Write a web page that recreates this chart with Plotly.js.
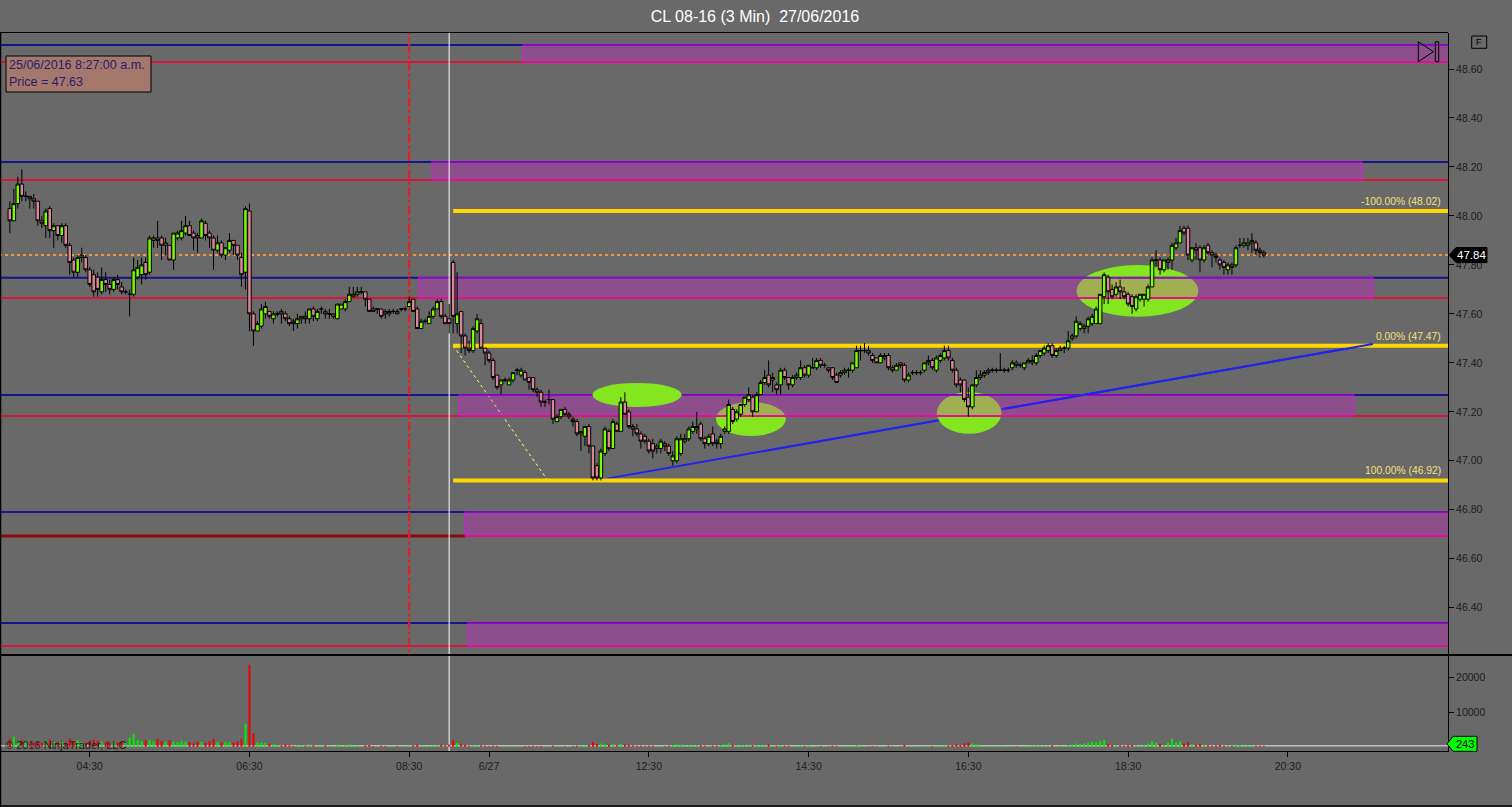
<!DOCTYPE html>
<html><head><meta charset="utf-8">
<script src="https://cdn.plot.ly/plotly-3.0.1.min.js"></script>
<style>html,body{margin:0;padding:0;background:#696969;overflow:hidden}#chart{width:1512px;height:807px}</style>
</head><body><div id="chart"></div>
<script>
// ---------------- DATA ----------------
const firstBar = -20; // bar index of first candle (index 0 = 04:30)
const openP = [
48.03,47.98,48.05,48.13,48.08,48.08,48.07,48.06,47.98,47.96,
48.03,47.94,47.96,47.92,47.96,47.88,47.82,47.77,47.83,47.83,
47.78,47.76,47.75,47.69,47.74,47.72,47.70,47.74,47.71,47.69,
47.68,47.68,47.75,47.76,47.81,47.77,47.90,47.91,47.91,47.88,
47.88,47.82,47.91,47.91,47.93,47.96,47.93,47.92,47.91,47.97,
47.93,47.91,47.86,47.89,47.84,47.86,47.90,47.88,47.83,47.77,
48.02,47.60,47.53,47.55,47.60,47.61,47.58,47.60,47.61,47.60,
47.58,47.57,47.56,47.58,47.59,47.58,47.62,47.58,47.62,47.61,
47.60,47.59,47.58,47.62,47.62,47.65,47.67,47.68,47.69,47.69,
47.66,47.62,47.62,47.62,47.61,47.60,47.61,47.61,47.62,47.62,
47.63,47.66,47.62,47.54,47.57,47.56,47.59,47.62,47.65,47.59,
47.58,47.81,47.56,47.61,47.51,47.46,47.45,47.53,47.56,47.46,
47.44,47.41,47.35,47.31,47.33,47.31,47.33,47.37,47.35,47.36,
47.34,47.34,47.29,47.28,47.24,47.25,47.25,47.16,47.18,47.21,
47.18,47.17,47.16,47.11,47.10,47.14,47.06,46.98,46.93,47.03,
47.12,47.05,47.15,47.12,47.24,47.20,47.14,47.13,47.11,47.10,
47.08,47.07,47.05,47.05,47.07,47.06,47.00,47.00,47.03,47.08,
47.09,47.12,47.13,47.15,47.09,47.07,47.11,47.08,47.07,47.12,
47.12,47.21,47.17,47.19,47.23,47.25,47.26,47.20,47.27,47.32,
47.35,47.33,47.31,47.31,47.37,47.34,47.31,47.34,47.34,47.38,
47.35,47.38,47.38,47.41,47.39,47.38,47.38,47.35,47.35,47.36,
47.37,47.37,47.38,47.45,47.45,47.45,47.43,47.42,47.40,47.42,
47.43,47.38,47.37,47.40,47.39,47.33,47.36,47.36,47.36,47.37,
47.40,47.41,47.37,47.41,47.42,47.45,47.41,47.37,47.33,47.33,
47.26,47.22,47.31,47.34,47.35,47.36,47.37,47.37,47.37,47.37,
47.37,47.38,47.40,47.39,47.38,47.40,47.40,47.40,47.43,47.44,
47.45,47.47,47.43,47.45,47.46,47.46,47.50,47.51,47.54,47.54,
47.55,47.56,47.56,47.56,47.67,47.75,47.70,47.68,47.71,47.69,
47.68,47.67,47.62,47.66,47.66,47.66,47.71,47.82,47.82,47.78,
47.81,47.82,47.87,47.89,47.95,47.95,47.82,47.87,47.87,47.82,
47.88,47.85,47.84,47.82,47.81,47.78,47.80,47.80,47.88,47.88,
47.88,47.89,47.89,47.86,47.85];
const highP = [
48.06,48.11,48.16,48.19,48.10,48.08,48.09,48.06,48.00,48.03,
48.04,47.97,47.96,47.97,47.97,47.89,47.83,47.84,47.87,47.84,
47.79,47.78,47.77,47.79,47.77,47.74,47.75,47.76,47.73,47.70,
47.70,47.83,47.82,47.83,47.83,47.92,47.92,47.98,47.92,47.91,
47.88,47.93,47.94,47.98,48.00,47.98,47.94,47.93,47.99,47.98,
47.94,47.92,47.92,47.90,47.87,47.93,47.90,47.88,47.85,48.04,
48.05,47.61,47.57,47.64,47.65,47.61,47.61,47.61,47.62,47.61,
47.59,47.58,47.60,47.59,47.61,47.62,47.63,47.62,47.63,47.62,
47.62,47.60,47.64,47.64,47.66,47.71,47.71,47.71,47.71,47.69,
47.66,47.63,47.62,47.62,47.62,47.62,47.62,47.62,47.62,47.63,
47.67,47.66,47.63,47.58,47.58,47.61,47.63,47.66,47.66,47.60,
47.64,47.82,47.77,47.61,47.52,47.49,47.55,47.60,47.58,47.46,
47.45,47.42,47.35,47.33,47.34,47.34,47.36,47.38,47.38,47.37,
47.34,47.34,47.30,47.29,47.25,47.29,47.25,47.19,47.21,47.22,
47.20,47.18,47.17,47.12,47.14,47.15,47.06,46.99,47.05,47.14,
47.13,47.17,47.16,47.26,47.28,47.21,47.15,47.15,47.12,47.11,
47.09,47.09,47.07,47.09,47.08,47.07,47.04,47.10,47.11,47.11,
47.14,47.16,47.20,47.16,47.10,47.11,47.14,47.09,47.11,47.14,
47.25,47.22,47.21,47.23,47.26,47.30,47.27,47.28,47.33,47.37,
47.41,47.36,47.32,47.38,47.38,47.34,47.35,47.36,47.41,47.39,
47.39,47.42,47.42,47.42,47.40,47.38,47.38,47.36,47.37,47.38,
47.38,47.40,47.47,47.47,47.48,47.47,47.44,47.42,47.44,47.44,
47.44,47.39,47.40,47.40,47.40,47.36,47.37,47.37,47.37,47.40,
47.43,47.42,47.43,47.44,47.47,47.47,47.42,47.38,47.34,47.33,
47.30,47.31,47.37,47.37,47.37,47.38,47.38,47.38,47.44,47.38,
47.38,47.41,47.41,47.40,47.40,47.42,47.43,47.44,47.45,47.47,
47.48,47.48,47.46,47.47,47.47,47.53,47.52,47.59,47.57,47.56,
47.59,47.60,47.63,47.68,47.77,47.76,47.72,47.73,47.74,47.71,
47.69,47.68,47.68,47.68,47.68,47.72,47.83,47.86,47.83,47.82,
47.83,47.89,47.91,47.96,47.96,47.96,47.87,47.89,47.88,47.88,
47.89,47.86,47.85,47.83,47.82,47.81,47.81,47.88,47.91,47.91,
47.91,47.93,47.90,47.87,47.86];
const lowP = [
47.93,47.98,48.03,48.06,48.06,48.03,48.03,47.96,47.95,47.91,
47.91,47.87,47.90,47.89,47.87,47.76,47.75,47.75,47.81,47.77,
47.71,47.67,47.67,47.68,47.69,47.68,47.69,47.70,47.68,47.68,
47.59,47.67,47.74,47.72,47.74,47.76,47.87,47.87,47.82,47.84,
47.82,47.78,47.90,47.90,47.92,47.92,47.86,47.85,47.91,47.90,
47.87,47.78,47.85,47.83,47.82,47.85,47.84,47.82,47.71,47.70,
47.53,47.47,47.53,47.54,47.58,47.58,47.56,47.59,47.56,47.57,
47.55,47.53,47.54,47.56,47.56,47.56,47.57,47.57,47.60,47.58,
47.58,47.58,47.58,47.62,47.61,47.65,47.67,47.67,47.68,47.63,
47.61,47.61,47.60,47.58,47.58,47.59,47.60,47.60,47.61,47.61,
47.63,47.61,47.54,47.54,47.56,47.56,47.58,47.62,47.58,47.56,
47.52,47.52,47.52,47.44,47.43,47.44,47.44,47.52,47.46,47.39,
47.40,47.33,47.29,47.27,47.32,47.31,47.32,47.35,47.34,47.33,
47.29,47.28,47.26,47.22,47.22,47.23,47.15,47.16,47.17,47.18,
47.17,47.14,47.10,47.04,47.06,47.03,46.92,46.92,46.92,47.02,
47.04,47.05,47.12,47.12,47.19,47.13,47.10,47.10,47.05,47.07,
47.03,47.01,47.03,47.03,47.04,47.02,46.98,46.99,47.02,47.07,
47.08,47.11,47.11,47.08,47.05,47.06,47.06,47.05,47.05,47.11,
47.11,47.15,47.16,47.18,47.22,47.24,47.18,47.20,47.27,47.31,
47.30,47.28,47.27,47.27,47.33,47.29,47.30,47.33,47.33,47.34,
47.34,47.38,47.37,47.38,47.38,47.36,47.33,47.32,47.34,47.35,
47.34,47.36,47.38,47.41,47.44,47.43,47.40,47.40,47.40,47.41,
47.37,47.36,47.37,47.38,47.32,47.32,47.35,47.35,47.35,47.36,
47.39,47.37,47.36,47.40,47.41,47.41,47.36,47.30,47.28,47.24,
47.18,47.21,47.30,47.33,47.34,47.35,47.36,47.36,47.37,47.36,
47.36,47.37,47.38,47.38,47.37,47.40,47.39,47.39,47.42,47.43,
47.44,47.42,47.42,47.45,47.44,47.45,47.49,47.50,47.53,47.52,
47.52,47.55,47.56,47.56,47.64,47.64,47.66,47.67,47.66,47.66,
47.63,47.60,47.61,47.65,47.63,47.65,47.71,47.79,47.76,47.77,
47.78,47.78,47.86,47.89,47.92,47.82,47.81,47.82,47.77,47.81,
47.84,47.79,47.81,47.78,47.76,47.76,47.76,47.79,47.87,47.87,
47.86,47.85,47.84,47.83,47.83];
const closeP = [
47.98,48.05,48.13,48.08,48.08,48.07,48.06,47.98,47.97,48.02,
47.94,47.96,47.92,47.96,47.88,47.81,47.77,47.83,47.84,47.78,
47.72,47.69,47.70,47.74,47.72,47.70,47.74,47.72,47.69,47.69,
47.68,47.78,47.79,47.80,47.76,47.91,47.91,47.90,47.88,47.89,
47.82,47.93,47.93,47.94,47.96,47.92,47.91,47.91,47.98,47.92,
47.91,47.86,47.89,47.84,47.87,47.90,47.88,47.84,47.76,48.03,
47.60,47.53,47.56,47.62,47.63,47.59,47.60,47.60,47.60,47.58,
47.56,47.56,47.58,47.59,47.58,47.62,47.59,47.61,47.62,47.60,
47.60,47.60,47.64,47.64,47.65,47.68,47.68,47.69,47.69,47.66,
47.61,47.61,47.62,47.59,47.60,47.61,47.61,47.60,47.62,47.62,
47.65,47.61,47.54,47.57,47.57,47.59,47.62,47.65,47.59,47.56,
47.56,47.59,47.60,47.51,47.46,47.45,47.54,47.58,47.46,47.44,
47.41,47.34,47.30,47.33,47.33,47.33,47.36,47.37,47.37,47.33,
47.32,47.29,47.28,47.24,47.24,47.25,47.17,47.18,47.21,47.19,
47.19,47.16,47.11,47.12,47.14,47.06,46.93,46.93,47.04,47.13,
47.05,47.16,47.12,47.24,47.19,47.14,47.13,47.11,47.08,47.08,
47.04,47.04,47.06,47.08,47.06,47.03,47.02,47.09,47.09,47.09,
47.13,47.14,47.14,47.09,47.07,47.10,47.07,47.07,47.10,47.13,
47.23,47.16,47.20,47.23,47.26,47.27,47.20,47.27,47.32,47.34,
47.31,47.34,47.29,47.37,47.34,47.31,47.34,47.35,47.38,47.35,
47.39,47.38,47.41,47.39,47.39,47.37,47.34,47.32,47.36,47.37,
47.37,47.40,47.45,47.45,47.45,47.44,47.41,47.40,47.43,47.43,
47.38,47.37,47.39,47.39,47.33,47.35,47.36,47.36,47.36,47.40,
47.41,47.38,47.42,47.43,47.45,47.42,47.37,47.31,47.31,47.25,
47.22,47.31,47.34,47.35,47.36,47.37,47.37,47.37,47.37,47.37,
47.37,47.40,47.39,47.39,47.40,47.41,47.41,47.43,47.45,47.46,
47.47,47.43,47.45,47.46,47.46,47.49,47.51,47.57,47.56,47.55,
47.58,47.59,47.62,47.68,47.76,47.69,47.67,47.71,47.69,47.67,
47.64,47.63,47.67,47.68,47.68,47.71,47.82,47.82,47.78,47.82,
47.82,47.88,47.89,47.94,47.93,47.84,47.87,47.86,47.82,47.87,
47.85,47.84,47.83,47.80,47.79,47.80,47.79,47.87,47.88,47.89,
47.89,47.90,47.86,47.85,47.84];
const volume = [
2200,2900,1500,1800,1200,900,1100,1300,1200,1600,
2100,1300,1400,1500,1200,2300,1400,1800,1300,1200,
1600,2000,1700,1500,1300,1200,1400,1300,1500,1200,
2600,3700,1900,1600,1900,1900,1600,2300,1600,1400,
1900,1500,1300,1600,1500,1300,1000,1400,1400,1100,
1600,2200,1300,1100,1300,1300,1200,1500,2300,6600,
23600,3900,1200,1200,1100,900,700,500,400,600,
400,300,500,400,300,700,400,300,300,400,
300,200,600,300,400,700,300,300,200,400,
500,200,200,300,200,200,200,200,150,200,
300,400,600,300,200,300,300,400,500,400,
600,1900,1100,700,500,300,400,300,400,300,
200,300,250,200,150,200,200,150,150,200,
200,250,150,200,150,150,300,200,150,150,
150,200,300,400,300,500,1300,800,900,700,
600,700,400,800,600,500,400,300,300,250,
300,300,200,250,200,300,500,700,600,400,
500,400,500,400,300,300,350,300,500,700,
1000,600,400,500,500,400,400,500,500,400,
600,300,300,500,300,300,250,200,400,250,
400,200,250,200,150,150,300,250,150,150,
150,200,500,300,200,150,200,150,150,150,
300,150,150,150,500,200,150,150,150,200,
150,200,250,300,400,400,500,700,500,1000,
1200,900,700,300,200,150,150,150,300,200,
150,200,150,150,200,300,400,400,350,300,
300,400,200,300,200,500,600,900,800,900,
1100,1400,1300,1700,2000,700,500,400,400,300,
400,500,400,300,400,900,1500,1200,800,500,
1100,2300,1200,1500,900,1300,700,500,900,600,
400,300,400,500,300,400,300,600,500,300,
400,350,300,300,243];

const tickIdx = [0,40,80,100,140,180,220,260,300];
const tickLabels = ['04:30','06:30','08:30','6/27','12:30','14:30','16:30','18:30','20:30'];
const priceTicks = [46.4,46.6,46.8,47.0,47.2,47.4,47.6,47.8,48.0,48.2,48.4,48.6];
const priceTickLabels = ['46.40','46.60','46.80','47.00','47.20','47.40','47.60','47.80','48.00','48.20','48.40','48.60'];
const volTicks = [10000,20000];
const volTickLabels = ['10000','20000'];

// supply/demand zones
const zoneLow   = [48.629,48.147,47.665,47.183,46.693,46.244];
const zoneHigh  = [48.698,48.220,47.747,47.269,46.791,46.338];
const zoneStart = [108.5,85.7,82.4,92.5,94.0,94.7];
const zoneEnd   = [null,318.5,321.3,316.5,null,null]; // null = runs to right edge
// fibonacci retracement
const fibLevels = [48.02,47.47,46.92];
const fibLabels = ['-100.00% (48.02)','0.00% (47.47)','100.00% (46.92)'];
const fibStart = 91.0;
const fibDiagX = [91.0,114.7];
const fibDiagP = [47.47,46.92];
// trend line
const trendX = [127.0,321.3];
const trendP = [46.92,47.477];
// ellipses
const ellX0 = [125.9,156.8,212.1,247.1];
const ellX1 = [148.2,174.3,228.3,277.6];
const ellP0 = [47.220,47.101,47.110,47.588];
const ellP1 = [47.318,47.240,47.281,47.800];
// markers
const sessionBreak = 90;
const markerBar = 80;
const markerLines = ['25/06/2016 8:27:00 a.m.','Price = 47.63'];
const titleText = 'CL 08-16 (3 Min)\u00a0\u00a027/06/2016';

// ---------------- LAYOUT GEOMETRY ----------------
const W=1512, H=807, ML=1, MR=64, MT=33, MB=56;
const plotW = W-ML-MR, plotH = H-MT-MB;
const fx = px => (px-ML)/plotW;
const fy = py => (H-MB-py)/plotH;
const priceDom = [fy(654), 1];
const volDom = [0, fy(656)];
const priceRange = [46.211, 48.747];
const volRange = [-1239, 26138];
const xRange = [-22.21, 340.1];
const XL = xRange[0]-5, XR = xRange[1]+5;
const p2fy = p => priceDom[0] + (p-priceRange[0])/(priceRange[1]-priceRange[0])*(priceDom[1]-priceDom[0]);
const v2fy = v => volDom[0] + (v-volRange[0])/(volRange[1]-volRange[0])*(volDom[1]-volDom[0]);
const FONT = 'Segoe UI, Liberation Sans, Arial, sans-serif';

const barIdx = openP.map((_,k)=>firstBar+k);
const volColors = openP.map((o,k)=> closeP[k] >= o ? '#00ee00' : '#ee0000');
const lastPrice = closeP[closeP.length-1];
const lastVol = volume[volume.length-1];

// ---------------- SHAPES ----------------
const shapes = [];
const B = 'below';
const trendLine = (xa,xb)=>{
  const s=(trendP[1]-trendP[0])/(trendX[1]-trendX[0]);
  return {type:'line',xref:'x',yref:'y',x0:xa,y0:trendP[0]+s*(xa-trendX[0]),x1:xb,y1:trendP[0]+s*(xb-trendX[0]),line:{color:'#2222f0',width:2},layer:B};
};
shapes.push(trendLine(trendX[0],trendX[1]));
shapes.push({type:'line',xref:'x',yref:'y',x0:fibDiagX[0],y0:fibDiagP[0],x1:fibDiagX[1],y1:fibDiagP[1],line:{color:'#ffff70',width:1,dash:'dot'},layer:B});
for (let k=1;k<ellX0.length;k++){
  shapes.push({type:'circle',xref:'x',yref:'y',x0:ellX0[k],x1:ellX1[k],y0:ellP0[k],y1:ellP1[k],fillcolor:'#84e61e',line:{width:0},layer:B});
}
zoneHigh.forEach(v=>shapes.push({type:'line',xref:'x',yref:'y',x0:XL,x1:XR,y0:v,y1:v,line:{color:'#15158c',width:2},layer:B}));
zoneLow.forEach(v=>shapes.push({type:'line',xref:'x',yref:'y',x0:XL,x1:XR,y0:v,y1:v,line:{color:'#dc143c',width:2},layer:B}));
shapes.push({type:'line',xref:'x',yref:'y',x0:XL,x1:zoneStart[4],y0:zoneLow[4],y1:zoneLow[4],line:{color:'#8e0a0a',width:3},layer:B});
shapes.push({type:'line',xref:'x',yref:'y',x0:XL,x1:XR,y0:lastPrice,y1:lastPrice,line:{color:'#f09a3e',width:2,dash:'dot'},layer:B});
zoneLow.forEach((lo,k)=>shapes.push({type:'rect',xref:'x',yref:'y',x0:zoneStart[k],x1:(zoneEnd[k]===null?XR:zoneEnd[k]),y0:lo,y1:zoneHigh[k],fillcolor:'rgba(255,0,255,0.24)',line:{color:'rgba(255,0,255,0.55)',width:1.5},layer:B}));
shapes.push({type:'circle',xref:'x',yref:'y',x0:ellX0[0],x1:ellX1[0],y0:ellP0[0],y1:ellP1[0],fillcolor:'#84e61e',line:{width:0},layer:B});
fibLevels.forEach(v=>shapes.push({type:'line',xref:'x',yref:'y',x0:fibStart,x1:XR,y0:v,y1:v,line:{color:'#ffd700',width:4},layer:B}));
// trend line stays visible over zones / fib level beyond the last ellipse it passes
shapes.push(trendLine(ellX1[2]+1,trendX[1]));
shapes.push({type:'line',xref:'x',yref:'y',x0:markerBar,x1:markerBar,y0:priceRange[0]-1,y1:priceRange[1]+1,line:{color:'#e81c1c',width:2,dash:'dashdot'},layer:B});
shapes.push({type:'line',xref:'x',yref:'y',x0:sessionBreak,x1:sessionBreak,y0:priceRange[0]-1,y1:priceRange[1]+1,line:{color:'#ffffff',width:1},layer:B});
shapes.push({type:'line',xref:'x',yref:'y2',x0:sessionBreak,x1:sessionBreak,y0:volRange[0]-1e4,y1:volRange[1]+1e4,line:{color:'#ffffff',width:1},layer:B});
shapes.push({type:'line',xref:'x',yref:'y2',x0:XL,x1:XR,y0:lastVol,y1:lastVol,line:{color:'#e8e8e8',width:1},layer:B});

// frame & decorations (paper, above)
const A='above';
shapes.push({type:'line',xref:'paper',yref:'paper',x0:fx(0),x1:fx(W),y0:fy(655),y1:fy(655),line:{color:'#000',width:2},layer:A});
shapes.push({type:'line',xref:'paper',yref:'paper',x0:fx(0),x1:1,y0:fy(32.5),y1:fy(32.5),line:{color:'#000',width:1},layer:A});
shapes.push({type:'line',xref:'paper',yref:'paper',x0:fx(0.5),x1:fx(0.5),y0:fy(H),y1:fy(32.5),line:{color:'#000',width:1.5},layer:A});
shapes.push({type:'line',xref:'paper',yref:'paper',x0:fx(0),x1:fx(W),y0:fy(806),y1:fy(806),line:{color:'#000',width:1.5},layer:A});
// tooltip box
shapes.push({type:'rect',xref:'paper',yref:'paper',x0:fx(6),x1:fx(151),y0:fy(92),y1:fy(56),fillcolor:'#a4786c',line:{color:'#000',width:1},layer:A});
// last price / last volume tags
(function(){
  const c=p2fy(lastPrice), h=7.5/plotH;
  shapes.push({type:'path',xref:'paper',yref:'paper',path:`M ${fx(1449)} ${c} L ${fx(1456)} ${c+h} L ${fx(1487)} ${c+h} L ${fx(1487)} ${c-h} L ${fx(1456)} ${c-h} Z`,fillcolor:'#000',line:{color:'#000',width:1},layer:A});
  const cv=v2fy(lastVol)+2/plotH;
  shapes.push({type:'path',xref:'paper',yref:'paper',path:`M ${fx(1447)} ${cv} L ${fx(1453)} ${cv+h} L ${fx(1477)} ${cv+h} L ${fx(1477)} ${cv-h} L ${fx(1453)} ${cv-h} Z`,fillcolor:'#00ff00',line:{color:'#000',width:1},layer:A});
})();
// play-to-end icon
shapes.push({type:'path',xref:'paper',yref:'paper',path:`M ${fx(1418.3)} ${fy(41.7)} L ${fx(1433.3)} ${fy(51.7)} L ${fx(1418.3)} ${fy(61.7)} Z`,line:{color:'#000',width:1},fillcolor:'rgba(0,0,0,0)',layer:A});
shapes.push({type:'rect',xref:'paper',yref:'paper',x0:fx(1435.3),x1:fx(1438.7),y0:fy(61.7),y1:fy(41.7),line:{color:'#000',width:1},fillcolor:'rgba(0,0,0,0)',layer:A});
// F box
shapes.push({type:'rect',xref:'paper',yref:'paper',x0:fx(1471.7),x1:fx(1486.7),y0:fy(48.3),y1:fy(36),line:{color:'#000',width:1},fillcolor:'rgba(0,0,0,0)',layer:A});

// ---------------- ANNOTATIONS ----------------
const ann = [];
fibLevels.forEach((v,k)=>ann.push({xref:'paper',yref:'y',x:fx(1443),y:v,xanchor:'right',yanchor:'bottom',yshift:2,text:fibLabels[k],showarrow:false,font:{family:FONT,size:10.3,color:'#f2e27a'}}));
ann.push({xref:'paper',yref:'paper',x:fx(7),y:fy(65),xanchor:'left',yanchor:'middle',text:markerLines[0],showarrow:false,font:{family:FONT,size:12.5,color:'#2a1c6e'}});
ann.push({xref:'paper',yref:'paper',x:fx(7),y:fy(82),xanchor:'left',yanchor:'middle',text:markerLines[1],showarrow:false,font:{family:FONT,size:12.5,color:'#2a1c6e'}});
ann.push({xref:'paper',yref:'paper',x:fx(1471.5),y:p2fy(lastPrice),xanchor:'center',yanchor:'middle',text:lastPrice.toFixed(2),showarrow:false,font:{family:FONT,size:11.5,color:'#ffffff'}});
ann.push({xref:'paper',yref:'paper',x:fx(1465),y:v2fy(lastVol)+2/plotH,xanchor:'center',yanchor:'middle',text:String(lastVol),showarrow:false,font:{family:FONT,size:11,color:'#000'}});
ann.push({xref:'paper',yref:'paper',x:fx(1479.2),y:fy(42.2),xanchor:'center',yanchor:'middle',text:'F',showarrow:false,font:{family:FONT,size:9,color:'#000'}});
ann.push({xref:'paper',yref:'paper',x:fx(3),y:fy(744.5),xanchor:'left',yanchor:'middle',text:'\u00a9 2016 NinjaTrader, LLC',showarrow:false,font:{family:FONT,size:11,color:'#1e1e1e'}});

// ---------------- TRACES ----------------
const traces = [
  {type:'candlestick',x:barIdx,open:openP,high:highP,low:lowP,close:closeP,xaxis:'x',yaxis:'y',
   increasing:{fillcolor:'#7cfc00',line:{color:'#000',width:1}},
   decreasing:{fillcolor:'#d98898',line:{color:'#000',width:1}},
   whiskerwidth:0,hoverinfo:'skip',showlegend:false},
  {type:'bar',x:barIdx,y:volume,xaxis:'x',yaxis:'y2',marker:{color:volColors,line:{width:0}},hoverinfo:'skip',showlegend:false}
];

const tickFont = {family:FONT,size:10.5,color:'#1c1c1c'};
const layout = {
  width:W,height:H,
  margin:{l:ML,r:MR,t:MT,b:MB,pad:0},
  paper_bgcolor:'#696969',plot_bgcolor:'rgba(0,0,0,0)',
  font:{family:FONT},
  title:{text:titleText,x:755/W,xanchor:'center',y:1-16/H,yanchor:'middle',font:{family:FONT,size:16,color:'#ffffff'}},
  showlegend:false,
  bargap:0.5, boxgap:0.12, boxgroupgap:0,
  xaxis:{domain:[0,1],anchor:'y2',range:xRange,showgrid:false,zeroline:false,showline:true,linecolor:'#000',linewidth:1,
    ticks:'outside',ticklen:5,tickcolor:'#000',tickmode:'array',tickvals:tickIdx,ticktext:tickLabels,tickfont:tickFont,
    rangeslider:{visible:false},fixedrange:true},
  yaxis:{domain:priceDom,anchor:'x',side:'right',range:priceRange,showgrid:false,zeroline:false,showline:true,linecolor:'#000',linewidth:1,
    ticks:'outside',ticklen:5,tickcolor:'#000',tickmode:'array',tickvals:priceTicks,ticktext:priceTickLabels,tickfont:tickFont,fixedrange:true},
  yaxis2:{domain:volDom,anchor:'x',side:'right',range:volRange,showgrid:false,zeroline:false,showline:true,linecolor:'#000',linewidth:1,
    ticks:'outside',ticklen:5,tickcolor:'#000',tickmode:'array',tickvals:volTicks,ticktext:volTickLabels,tickfont:tickFont,fixedrange:true},
  shapes:shapes,
  annotations:ann
};
Plotly.newPlot('chart',traces,layout,{staticPlot:true,displayModeBar:false});
</script>
</body></html>
